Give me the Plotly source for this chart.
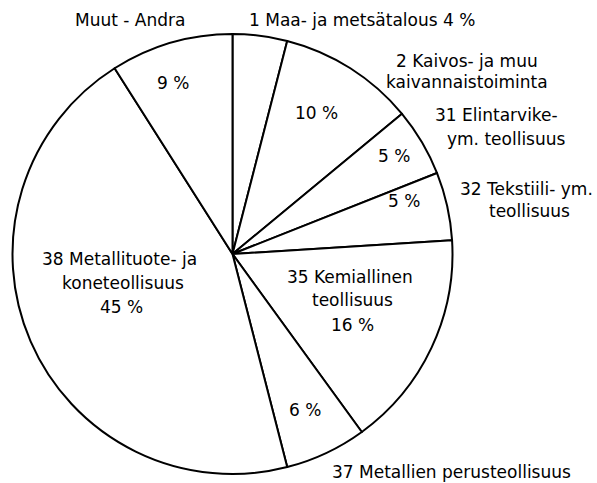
import plotly.graph_objects as go

W, H = 597, 483

# Data
categories = [
    "1 Maa- ja metsätalous",
    "2 Kaivos- ja muu kaivannaistoiminta",
    "31 Elintarvike- ym. teollisuus",
    "32 Tekstiili- ym. teollisuus",
    "35 Kemiallinen teollisuus",
    "37 Metallien perusteollisuus",
    "38 Metallituote- ja koneteollisuus",
    "Muut - Andra",
]
values = [4, 10, 5, 5, 16, 6, 45, 9]

# Label text lines (as printed in the chart)
name_lines = [
    ["1 Maa- ja metsätalous"],
    ["2 Kaivos- ja muu", "kaivannaistoiminta"],
    ["31 Elintarvike-", "ym. teollisuus"],
    ["32 Tekstiili- ym.", "teollisuus"],
    ["35 Kemiallinen", "teollisuus"],
    ["37 Metallien perusteollisuus"],
    ["38 Metallituote- ja", "koneteollisuus"],
    ["Muut - Andra"],
]

fig = go.Figure()

cx, cy, r = 232.5, 254, 220
fig.add_trace(go.Pie(
    labels=categories,
    values=values,
    sort=False,
    direction="clockwise",
    rotation=0,
    textinfo="none",
    hoverinfo="label+percent",
    marker=dict(colors=["white"] * len(values),
                line=dict(color="black", width=2)),
    domain=dict(x=[(cx - r) / W, (cx + r) / W],
                y=[(H - cy - r) / H, (H - cy + r) / H]),
    showlegend=False,
))

pct = [f"{v} %" for v in values]

# (text, x_px, y_px) for each text line
layout_lines = [
    (name_lines[0][0] + " " + pct[0], 362, 20),
    (name_lines[1][0], 467, 61),
    (name_lines[1][1], 467, 82),
    (pct[1], 316, 113),
    (name_lines[2][0], 496, 115),
    (name_lines[2][1], 506, 139),
    (pct[2], 394, 156),
    (name_lines[3][0], 526, 189),
    (name_lines[3][1], 529, 211),
    (pct[3], 404, 201),
    (name_lines[4][0], 350, 277),
    (name_lines[4][1], 352, 300),
    (pct[4], 352, 325),
    (pct[5], 305, 410),
    (name_lines[5][0], 451, 472),
    (name_lines[6][0], 119, 259),
    (name_lines[6][1], 123, 283),
    (pct[6], 121, 307),
    (name_lines[7][0], 130, 20),
    (pct[7], 173, 83),
]

annotations = []
for txt, px, py in layout_lines:
    annotations.append(dict(
        text=txt, x=px / W, y=1 - py / H, xref="paper", yref="paper",
        xanchor="center", yanchor="middle", showarrow=False,
        font=dict(family="DejaVu Sans", size=17, color="black"),
    ))

fig.update_layout(
    width=W, height=H,
    margin=dict(l=0, r=0, t=0, b=0),
    paper_bgcolor="white", plot_bgcolor="white",
    annotations=annotations,
)

fig.write_html("out.html", config={"displayModeBar": False},
               post_script="document.body.style.margin='0px';")
